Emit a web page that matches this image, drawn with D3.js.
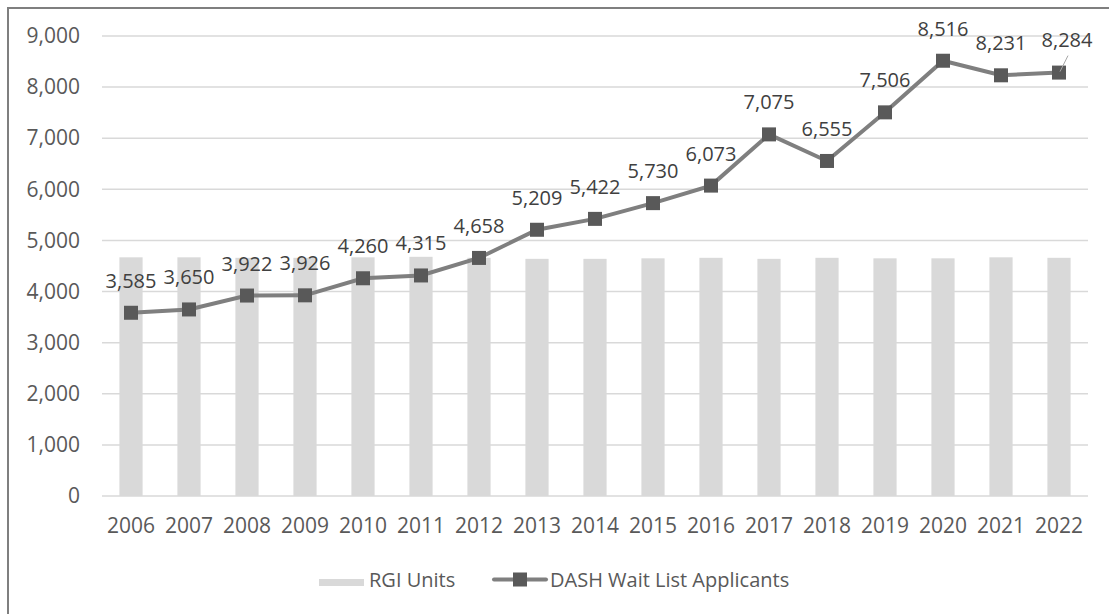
<!DOCTYPE html>
<html>
<head>
<meta charset="utf-8">
<script src="https://cdn.jsdelivr.net/npm/d3@7"></script>
<style>
  body { margin: 0; background: #fff; }
  svg { font-family: "Open Sans", sans-serif; }
</style>
</head>
<body>
<div class="chart"></div>
<script>
const years = ['2006', '2007', '2008', '2009', '2010', '2011', '2012', '2013', '2014',
  '2015', '2016', '2017', '2018', '2019', '2020', '2021', '2022']
const rgiUnits = [4670, 4670, 4660, 4660, 4670, 4680, 4660, 4640, 4640,
  4650, 4660, 4640, 4660, 4650, 4650, 4670, 4660]
const waitList = [3585, 3650, 3922, 3926, 4260, 4315, 4658, 5209, 5422,
  5730, 6073, 7075, 6555, 7506, 8516, 8231, 8284]
const yTicks = [0, 1000, 2000, 3000, 4000, 5000, 6000, 7000, 8000, 9000]

const svg = d3.select('.chart').append('svg')
  .attr('width', 1109)
  .attr('height', 614)

// outer chart border (only top and left fall inside the picture)
svg.append('rect')
  .attr('x', 8).attr('y', 8)
  .attr('width', 1300).attr('height', 800)
  .attr('fill', 'none')
  .attr('stroke', '#7f7f7f')
  .attr('stroke-width', 2)

const margin = {top: 36, left: 102, right: 1088, bottom: 496}

const x = d3.scaleBand()
  .domain(years)
  .range([margin.left, margin.right])
  .paddingInner(0.6)
  .paddingOuter(0.3)

const xc = d => x(d) + x.bandwidth() / 2

const y = d3.scaleLinear()
  .domain([0, 9000])
  .range([margin.bottom, margin.top])

// gridlines
svg.append('g')
  .selectAll('line')
  .data(yTicks)
  .join('line')
  .attr('x1', margin.left)
  .attr('x2', margin.right)
  .attr('y1', d => y(d))
  .attr('y2', d => y(d))
  .attr('stroke', '#d9d9d9')
  .attr('stroke-width', 1.5)

// y axis labels
const yAxis = svg.append('g')
  .attr('transform', 'translate(80,0)')
  .call(d3.axisLeft(y).tickValues(yTicks).tickSize(0).tickPadding(0).tickFormat(d3.format(',')))
yAxis.select('.domain').remove()
yAxis.selectAll('text')
  .attr('fill', '#595959')
  .attr('font-size', 21)
  .attr('font-family', '"Open Sans", sans-serif')

// x axis labels
const xAxis = svg.append('g')
  .attr('transform', `translate(0,${margin.bottom + 22})`)
  .call(d3.axisBottom(x).tickSize(0).tickPadding(0))
xAxis.select('.domain').remove()
xAxis.selectAll('text')
  .attr('fill', '#595959')
  .attr('font-size', 21)
  .attr('font-family', '"Open Sans", sans-serif')

// bars
svg.append('g')
  .selectAll('rect')
  .data(years)
  .join('rect')
  .attr('x', d => x(d))
  .attr('width', x.bandwidth())
  .attr('y', (d, i) => y(rgiUnits[i]))
  .attr('height', (d, i) => y(0) - y(rgiUnits[i]))
  .attr('fill', '#d9d9d9')

// line
const line = d3.line()
  .x((d, i) => xc(years[i]))
  .y(d => y(d))

svg.append('path')
  .datum(waitList)
  .attr('d', line)
  .attr('fill', 'none')
  .attr('stroke', '#7f7f7f')
  .attr('stroke-width', 4)

svg.append('g')
  .selectAll('rect')
  .data(waitList)
  .join('rect')
  .attr('x', (d, i) => xc(years[i]) - 7)
  .attr('y', d => y(d) - 7)
  .attr('width', 14)
  .attr('height', 14)
  .attr('fill', '#595959')

// data labels; the last one is nudged right with a leader line
const last = waitList.length - 1
const labelShift = waitList.map((d, i) => i === last ? [8, -1] : [0, 0])

svg.append('g')
  .selectAll('text')
  .data(waitList)
  .join('text')
  .attr('x', (d, i) => xc(years[i]) + labelShift[i][0])
  .attr('y', (d, i) => y(d) - 25 + labelShift[i][1])
  .attr('text-anchor', 'middle')
  .attr('font-size', 20)
  .attr('fill', '#404040')
  .text(d => d3.format(',')(d))

svg.append('line')
  .attr('x1', xc(years[last]) + 9)
  .attr('y1', y(waitList[last]) - 17)
  .attr('x2', xc(years[last]) + 1)
  .attr('y2', y(waitList[last]) - 1)
  .attr('stroke', '#a6a6a6')
  .attr('stroke-width', 1)

// legend
svg.append('rect')
  .attr('x', 319).attr('y', 579)
  .attr('width', 45).attr('height', 7)
  .attr('fill', '#d9d9d9')
svg.append('text')
  .attr('x', 369).attr('y', 587)
  .attr('font-size', 20)
  .attr('fill', '#595959')
  .text('RGI Units')

svg.append('line')
  .attr('x1', 494).attr('x2', 546)
  .attr('y1', 579.5).attr('y2', 579.5)
  .attr('stroke', '#7f7f7f')
  .attr('stroke-width', 4)
  .attr('stroke-linecap', 'round')
svg.append('rect')
  .attr('x', 513).attr('y', 572.5)
  .attr('width', 14).attr('height', 14)
  .attr('fill', '#595959')
svg.append('text')
  .attr('x', 550).attr('y', 587)
  .attr('font-size', 20)
  .attr('fill', '#595959')
  .text('DASH Wait List Applicants')
</script>
</body>
</html>
